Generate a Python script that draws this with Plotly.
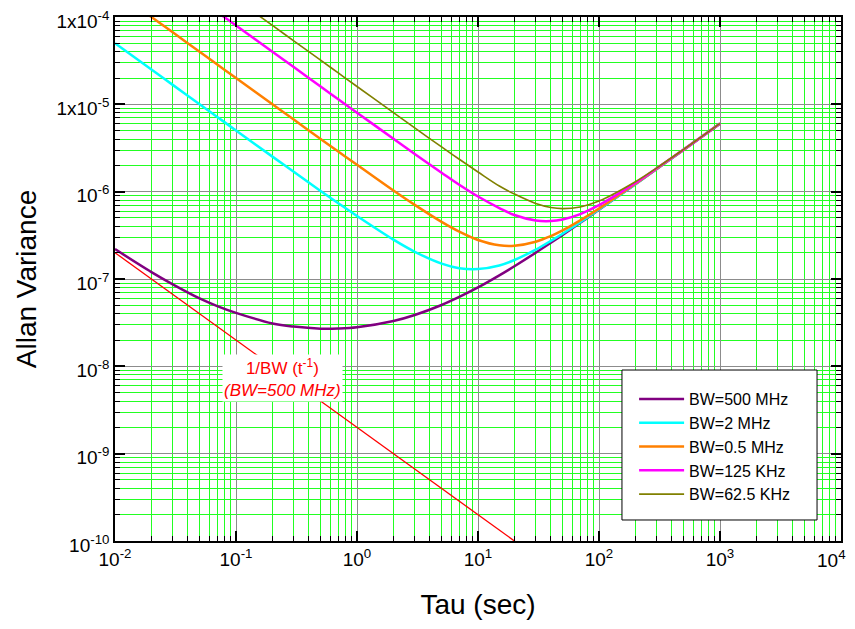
import plotly.graph_objects as go

# ---- data ----
tau = [0.01, 0.02, 0.03, 0.05, 0.07, 0.1, 0.2, 0.3, 0.5, 0.7, 1, 2, 3, 5, 7, 10,
       15, 20, 30, 40, 50, 70, 100, 200, 300, 500, 700, 1000]

bw_500m = [2.2e-7, 1.2e-7, 8.7e-8, 6.0e-8, 4.9e-8, 4.1e-8, 3.1e-8, 2.85e-8, 2.7e-8, 2.71e-8,
           2.8e-8, 3.3e-8, 3.87e-8, 5.04e-8, 6.23e-8, 8.0e-8, 1.1e-7, 1.4e-7, 2.0e-7, 2.6e-7,
           3.2e-7, 4.4e-7, 6.2e-7, 1.22e-6, 1.82e-6, 3.0e-6, 4.2e-6, 6.0e-6]
bw_2m = [5.0e-5, 2.5e-5, 1.67e-5, 1.0e-5, 7.16e-6, 5.02e-6, 2.52e-6, 1.69e-6, 1.02e-6, 7.38e-7,
         5.26e-7, 2.82e-7, 2.05e-7, 1.5e-7, 1.33e-7, 1.3e-7, 1.43e-7, 1.65e-7, 2.17e-7, 2.73e-7,
         3.3e-7, 4.47e-7, 6.25e-7, 1.22e-6, 1.82e-6, 3.02e-6, 4.22e-6, 6.02e-6]
bw_05m = [2.0e-4, 1.0e-4, 6.67e-5, 4.0e-5, 2.86e-5, 2.0e-5, 1.0e-5, 6.69e-6, 4.02e-6, 2.88e-6,
          2.03e-6, 1.03e-6, 7.05e-7, 4.5e-7, 3.48e-7, 2.8e-7, 2.43e-7, 2.4e-7, 2.67e-7, 3.1e-7,
          3.6e-7, 4.69e-7, 6.4e-7, 1.23e-6, 1.83e-6, 3.02e-6, 4.22e-6, 6.02e-6]
bw_125k = [8.0e-4, 4.0e-4, 2.67e-4, 1.6e-4, 1.14e-4, 8.0e-5, 4.0e-5, 2.67e-5, 1.6e-5, 1.14e-5,
           8.03e-6, 4.03e-6, 2.7e-6, 1.65e-6, 1.2e-6, 8.8e-7, 6.5e-7, 5.4e-7, 4.67e-7, 4.6e-7,
           4.8e-7, 5.54e-7, 7.0e-7, 1.26e-6, 1.85e-6, 3.04e-6, 4.23e-6, 6.03e-6]
bw_62k = [1.6e-3, 8.0e-4, 5.33e-4, 3.2e-4, 2.29e-4, 1.6e-4, 8.0e-5, 5.33e-5, 3.2e-5, 2.29e-5,
          1.6e-5, 8.03e-6, 5.37e-6, 3.25e-6, 2.35e-6, 1.68e-6, 1.16e-6, 9.4e-7, 7.33e-7, 6.6e-7,
          6.4e-7, 6.69e-7, 7.8e-7, 1.3e-6, 1.87e-6, 3.05e-6, 4.24e-6, 6.04e-6]

ref_tau = [0.01, 20, 1000]
ref_val = [2.0e-7, 1.0e-10, 2.0e-12]

series = [
    ("BW=500 MHz", bw_500m, "#800080", 2.5),
    ("BW=2 MHz", bw_2m, "#00FFFF", 2.5),
    ("BW=0.5 MHz", bw_05m, "#FF8000", 2.5),
    ("BW=125 KHz", bw_125k, "#FF00FF", 2.5),
    ("BW=62.5 KHz", bw_62k, "#808000", 1.6),
]

x_ticks = [0.01, 0.1, 1, 10, 100, 1000, 10000]
x_text = ["10<sup>-2</sup>", "10<sup>-1</sup>", "10<sup>0</sup>", "10<sup>1</sup>",
          "10<sup>2</sup>", "10<sup>3</sup>", ""]
x_last_label = "10<sup>4</sup>"
y_ticks = [1e-10, 1e-9, 1e-8, 1e-7, 1e-6, 1e-5, 1e-4]
y_text = ["10<sup>-10</sup>", "10<sup>-9</sup>", "10<sup>-8</sup>", "10<sup>-7</sup>",
          "10<sup>-6</sup>", "1x10<sup>-5</sup>", "1x10<sup>-4</sup>"]

FONT = "Liberation Sans, Arial, sans-serif"

fig = go.Figure()
fig.add_trace(go.Scatter(x=ref_tau, y=ref_val, mode="lines", showlegend=False,
                         line=dict(color="#FF0000", width=1.3)))
for name, vals, color, w in series:
    fig.add_trace(go.Scatter(x=tau, y=vals, mode="lines", name=name,
                             line=dict(color=color, width=w, shape="spline", smoothing=1.0)))

axis_common = dict(
    type="log", showline=True, linecolor="black", linewidth=1.5, mirror="allticks",
    ticks="inside", ticklen=10, tickwidth=1.5, tickcolor="black",
    showgrid=True, gridcolor="#8c8c8c", gridwidth=1,
    zeroline=False, automargin=False, ticklabeloverflow="allow",
    tickfont=dict(family=FONT, size=19, color="black"),
    minor=dict(dtick="D1", ticks="inside", ticklen=5, tickwidth=1.2, tickcolor="black",
               showgrid=True, gridcolor="#22ff22", gridwidth=1),
)

fig.update_xaxes(**axis_common, range=[-2, 4], tickvals=x_ticks, ticktext=x_text,
                 title=dict(text="Tau (sec)", standoff=26,
                            font=dict(family=FONT, size=28, color="black")))
fig.update_yaxes(**axis_common, range=[-10, -4], tickvals=y_ticks, ticktext=y_text,
                 ticklabelshift=4,
                 title=dict(text="Allan Variance", standoff=12,
                            font=dict(family=FONT, size=28, color="black")))

# last x tick label, right-aligned so it stays inside the page
fig.add_annotation(x=4, y=0, xref="x", yref="paper", xanchor="right", yanchor="top",
                   xshift=7, yshift=-4, showarrow=False, text=x_last_label,
                   font=dict(family=FONT, size=19, color="black"))

fig.add_annotation(x=-0.612, y=-8.13, xref="x", yref="y", showarrow=False,
                   text="1/BW (t<sup>-1</sup>)<br><i>(BW=500 MHz)</i>",
                   font=dict(family=FONT, size=17, color="#FF0000"),
                   bgcolor="white", align="center")

# legend frame
fig.add_shape(type="rect", xref="paper", yref="paper",
              x0=0.6983, x1=0.967, y0=0.0401, y1=0.3263,
              line=dict(color="black", width=1), fillcolor="white", layer="above")

fig.update_layout(
    width=847, height=621,
    margin=dict(l=107, r=14, t=9, b=88),
    paper_bgcolor="white", plot_bgcolor="white",
    legend=dict(x=0.715, y=0.3034, xanchor="left", yanchor="top",
                bgcolor="rgba(0,0,0,0)", borderwidth=0,
                font=dict(family=FONT, size=16, color="black"),
                itemwidth=45),
)

fig.write_html("out.html")
